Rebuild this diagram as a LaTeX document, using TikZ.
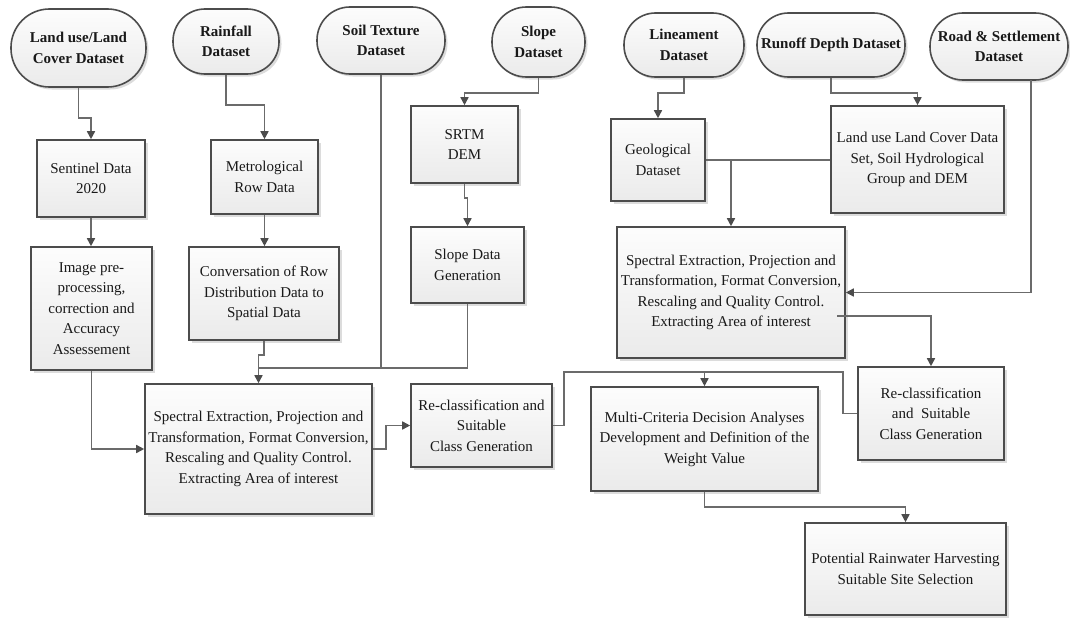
\documentclass[tikz,border=0pt]{standalone}
\usepackage{fontspec}
\setmainfont{Liberation Serif}
\usetikzlibrary{arrows.meta,shadows,calc}
\definecolor{linec}{gray}{0.42}
\definecolor{edgec}{gray}{0.30}
\definecolor{txtc}{gray}{0.10}
\tikzset{
  base/.style={draw=edgec, line width=1.6pt, inner sep=0pt, align=center, text=txtc,
    font=\fontsize{15}{20.5}\selectfont, top color=gray!2, bottom color=gray!16,
    drop shadow={shadow xshift=2.5pt, shadow yshift=-2.5pt, fill=gray!50, opacity=0.55}},
  procbox/.style={base, rectangle},
  dataset/.style={base, rectangle, font=\fontsize{15}{20.5}\selectfont\bfseries},
  conn/.style={draw=linec, line width=1.6pt},
  arr/.style={conn, -{Triangle[length=8pt,width=8pt,color=edgec]}}
}
\begin{document}
\begin{tikzpicture}[x=1pt,y=-1pt]
\useasboundingbox (0,0) rectangle (1070,618);
% datasets
\node[dataset, minimum width=135pt, minimum height=78pt, rounded corners=38.5pt] (lulc) at (78.5,48) {Land use/Land\\Cover Dataset};
\node[dataset, minimum width=106pt, minimum height=65pt, rounded corners=32pt] (rain) at (226,41.5) {Rainfall\\Dataset};
\node[dataset, minimum width=128pt, minimum height=67pt, rounded corners=33pt] (soil) at (381,40.5) {Soil Texture\\Dataset};
\node[dataset, minimum width=93pt, minimum height=70pt, rounded corners=34.5pt] (slope) at (538.5,42) {Slope\\Dataset};
\node[dataset, minimum width=120pt, minimum height=64pt, rounded corners=31.5pt] (line) at (684,45) {Lineament\\Dataset};
\node[dataset, minimum width=148pt, minimum height=64pt, rounded corners=31.5pt] (runoff) at (831,45) {Runoff Depth Dataset};
\node[dataset, minimum width=138pt, minimum height=67pt, rounded corners=33pt] (road) at (999,46.5) {Road \& Settlement\\Dataset};
% process boxes
\node[procbox, minimum width=108pt, minimum height=77pt] (sent) at (91,178.5) {Sentinel Data\\2020};
\node[procbox, minimum width=121pt, minimum height=123pt] (img) at (91.5,308.5) {Image pre-\\processing,\\correction and\\Accuracy\\Assessement};
\node[procbox, minimum width=107pt, minimum height=74pt] (met) at (264.5,177) {Metrological\\Row Data};
\node[procbox, minimum width=150pt, minimum height=93pt] (conv) at (264,293.5) {Conversation of Row\\Distribution Data to\\Spatial Data};
\node[procbox, minimum width=107pt, minimum height=77pt] (srtm) at (464.5,144.5) {SRTM\\DEM};
\node[procbox, minimum width=113pt, minimum height=76pt] (sgen) at (467.5,265) {Slope Data\\Generation};
\node[procbox, minimum width=94pt, minimum height=82pt] (geo) at (658,160) {Geological\\Dataset};
\node[procbox, minimum width=173pt, minimum height=107pt] (lbox) at (917.5,159.5) {Land use Land Cover Data\\Set, Soil Hydrological\\Group and DEM};
\node[procbox, minimum width=228pt, minimum height=131pt] (rspec) at (731,292.5) {Spectral Extraction, Projection and\\Transformation, Format Conversion,\\Rescaling and Quality Control.\\Extracting Area of interest};
\node[procbox, minimum width=227pt, minimum height=130pt] (lspec) at (258.5,449) {Spectral Extraction, Projection and\\Transformation, Format Conversion,\\Rescaling and Quality Control.\\Extracting Area of interest};
\node[procbox, minimum width=141pt, minimum height=83pt] (mrec) at (481.5,425.5) {Re-classification and\\Suitable\\Class Generation};
\node[procbox, minimum width=146pt, minimum height=93pt] (rrec) at (931,413.5) {Re-classification\\and~~Suitable\\Class Generation};
\node[procbox, minimum width=227pt, minimum height=104pt] (multi) at (704.5,439) {Multi-Criteria Decision Analyses\\Development and Definition of the\\Weight Value};
\node[procbox, minimum width=201pt, minimum height=92pt] (pot) at (905.5,569) {Potential Rainwater Harvesting\\Suitable Site Selection};
% junction coordinates
\coordinate (jn) at (258.5,368);
\coordinate (ja) at (564,372);
\coordinate (jb) at (843,372);
\coordinate (rs) at (1031,80);
\coordinate (rx) at (837,316);
% connectors
\draw[arr] (lulc.south) -- ++(0,30) -| (sent.north);
\draw[arr] (sent.south) -- (sent.south |- img.north);
\draw[arr] (img.south) |- (lspec.west);
\draw[arr] (rain.south) -- ++(0,30) -| (met.north);
\draw[arr] (met.south) -- (met.south |- conv.north);
\draw[arr] (conv.south) -- ++(0,14) -| (lspec.north);
\draw[conn] (soil.south) |- (jn);
\draw[conn] (sgen.south) |- (jn);
\draw[arr] (slope.south) -- ++(0,15) -| (srtm.north);
\draw[arr] (srtm.south) -- ++(0,14) -| (sgen.north);
\draw[arr] (line.south) -- ++(0,15) -| (geo.north);
\draw[arr] (runoff.south) -- ++(0,15) -| (lbox.north);
\draw[conn] (geo.east) -- (geo.east -| lbox.west);
\draw[arr] (rspec.north |- geo.east) -- (rspec.north);
\draw[arr] (rs) |- (rspec.east);
\draw[arr] (rx) -| (rrec.north);
\draw[arr] (lspec.east) -- ++(13,0) |- (mrec.west);
\draw[conn] (mrec.east) -| (ja) -- (jb) |- (rrec.west);
\draw[arr] (multi.north |- ja) -- (multi.north);
\draw[arr] (multi.south) -- ++(0,15) -| (pot.north);
\end{tikzpicture}
\end{document}
